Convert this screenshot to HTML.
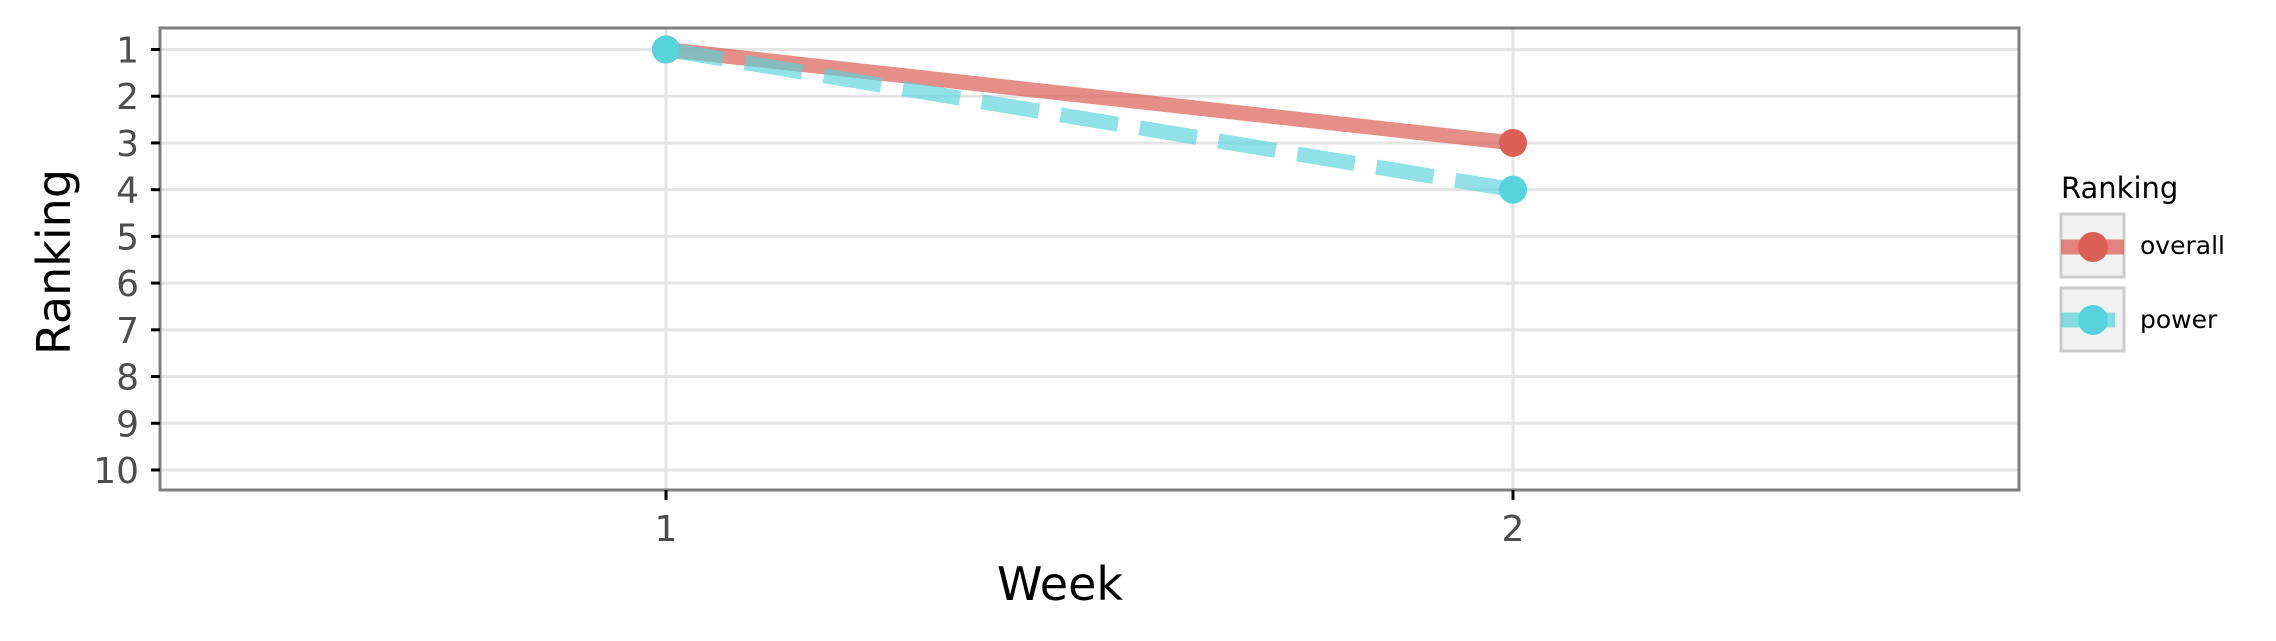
<!DOCTYPE html>
<html><head><meta charset="utf-8"><style>
html,body{margin:0;padding:0;background:#fff;}
svg{display:block;font-family:"DejaVu Sans","Liberation Sans",sans-serif;}
</style></head><body>
<svg id="chart" width="2276" height="641" viewBox="0 0 2276 641">
<g id="grid"></g>
<g id="series"></g>
<rect x="160" y="28" width="1859" height="462" fill="none" stroke="#7f7f7f" stroke-width="3"/>
<g id="axes"></g>
<text x="1060" y="600" font-size="46" text-anchor="middle" fill="#000">Week</text>
<text transform="translate(70,262) rotate(-90)" font-size="46" text-anchor="middle" fill="#000">Ranking</text>
<g>
<text x="2061" y="198" font-size="29" fill="#000">Ranking</text>
<g>
<rect x="2061" y="214" width="63" height="63" fill="#f2f2f2" stroke="#cccccc" stroke-width="3"/>
<line x1="2061" y1="247" x2="2124" y2="247" stroke="rgba(220,95,86,0.75)" stroke-width="15"/>
<circle cx="2093" cy="247" r="15" fill="#dc5f56"/>
<text x="2140" y="254" font-size="25" fill="#000">overall</text>
</g>
<g>
<rect x="2061" y="288" width="63" height="63" fill="#f2f2f2" stroke="#cccccc" stroke-width="3"/>
<line x1="2061" y1="320" x2="2115" y2="320" stroke="rgba(86,211,219,0.7)" stroke-width="15"/>
<circle cx="2093" cy="320" r="15" fill="#56d3db"/>
<text x="2140" y="328" font-size="25" fill="#000">power</text>
</g>
</g>
</svg>
<script>
const weeks = [1, 2];
const overall = [1, 3];
const power = [1, 4];
const yTicks = [1,2,3,4,5,6,7,8,9,10];
const xTicks = [1, 2];

const NS = "http://www.w3.org/2000/svg";
function xs(v){ return 666 + (v - 1) * 847; }
function ys(v){ return 49.5 + (v - 1) * 46.72; }
function mk(tag, attrs, parent){
  const e = document.createElementNS(NS, tag);
  for (const k in attrs) e.setAttribute(k, attrs[k]);
  parent.appendChild(e); return e;
}
const grid = document.getElementById('grid');
const axes = document.getElementById('axes');
const series = document.getElementById('series');
yTicks.forEach(t => {
  const g = mk('line', {x1:160, x2:2019, y1:ys(t), y2:ys(t), stroke:'#e5e5e5', 'stroke-width':3}, grid);
  
  
  const tk = mk('line', {x1:151, x2:160, y1:ys(t), y2:ys(t), stroke:'#000', 'stroke-width':3}, axes);
  
  
  const tx = mk('text', {x:139, y:ys(t)+13, 'font-size':36, 'text-anchor':'end', fill:'#4d4d4d'}, axes);
  tx.textContent = t;
  
  
});
xTicks.forEach(t => {
  const g = mk('line', {x1:xs(t), x2:xs(t), y1:28, y2:490, stroke:'#e5e5e5', 'stroke-width':3}, grid);
  
  
  const tk = mk('line', {x1:xs(t), x2:xs(t), y1:490, y2:500, stroke:'#000', 'stroke-width':3}, axes);
  
  
  const tx = mk('text', {x:xs(t), y:541, 'font-size':36, 'text-anchor':'middle', fill:'#4d4d4d'}, axes);
  tx.textContent = t;
  
  
});
function drawSeries(vals, lineColor, ptColor, dash, name){
  const pts = weeks.map((w,i) => xs(w) + ',' + ys(vals[i])).join(' ');
  const l = mk('polyline', {points:pts, fill:'none', stroke:lineColor, 'stroke-width':15}, series);
  if (dash) l.setAttribute('stroke-dasharray', dash);
  
  
  weeks.forEach((w,i) => {
    const c = mk('circle', {cx:xs(w), cy:ys(vals[i]), r:14, fill:ptColor}, series);
    
    
  });
}
drawSeries(overall, 'rgba(220,95,86,0.7)', '#dc5f56', null, 'overall');
drawSeries(power, 'rgba(86,211,219,0.65)', '#56d3db', '58 22', 'power');
</script>
</body></html>
